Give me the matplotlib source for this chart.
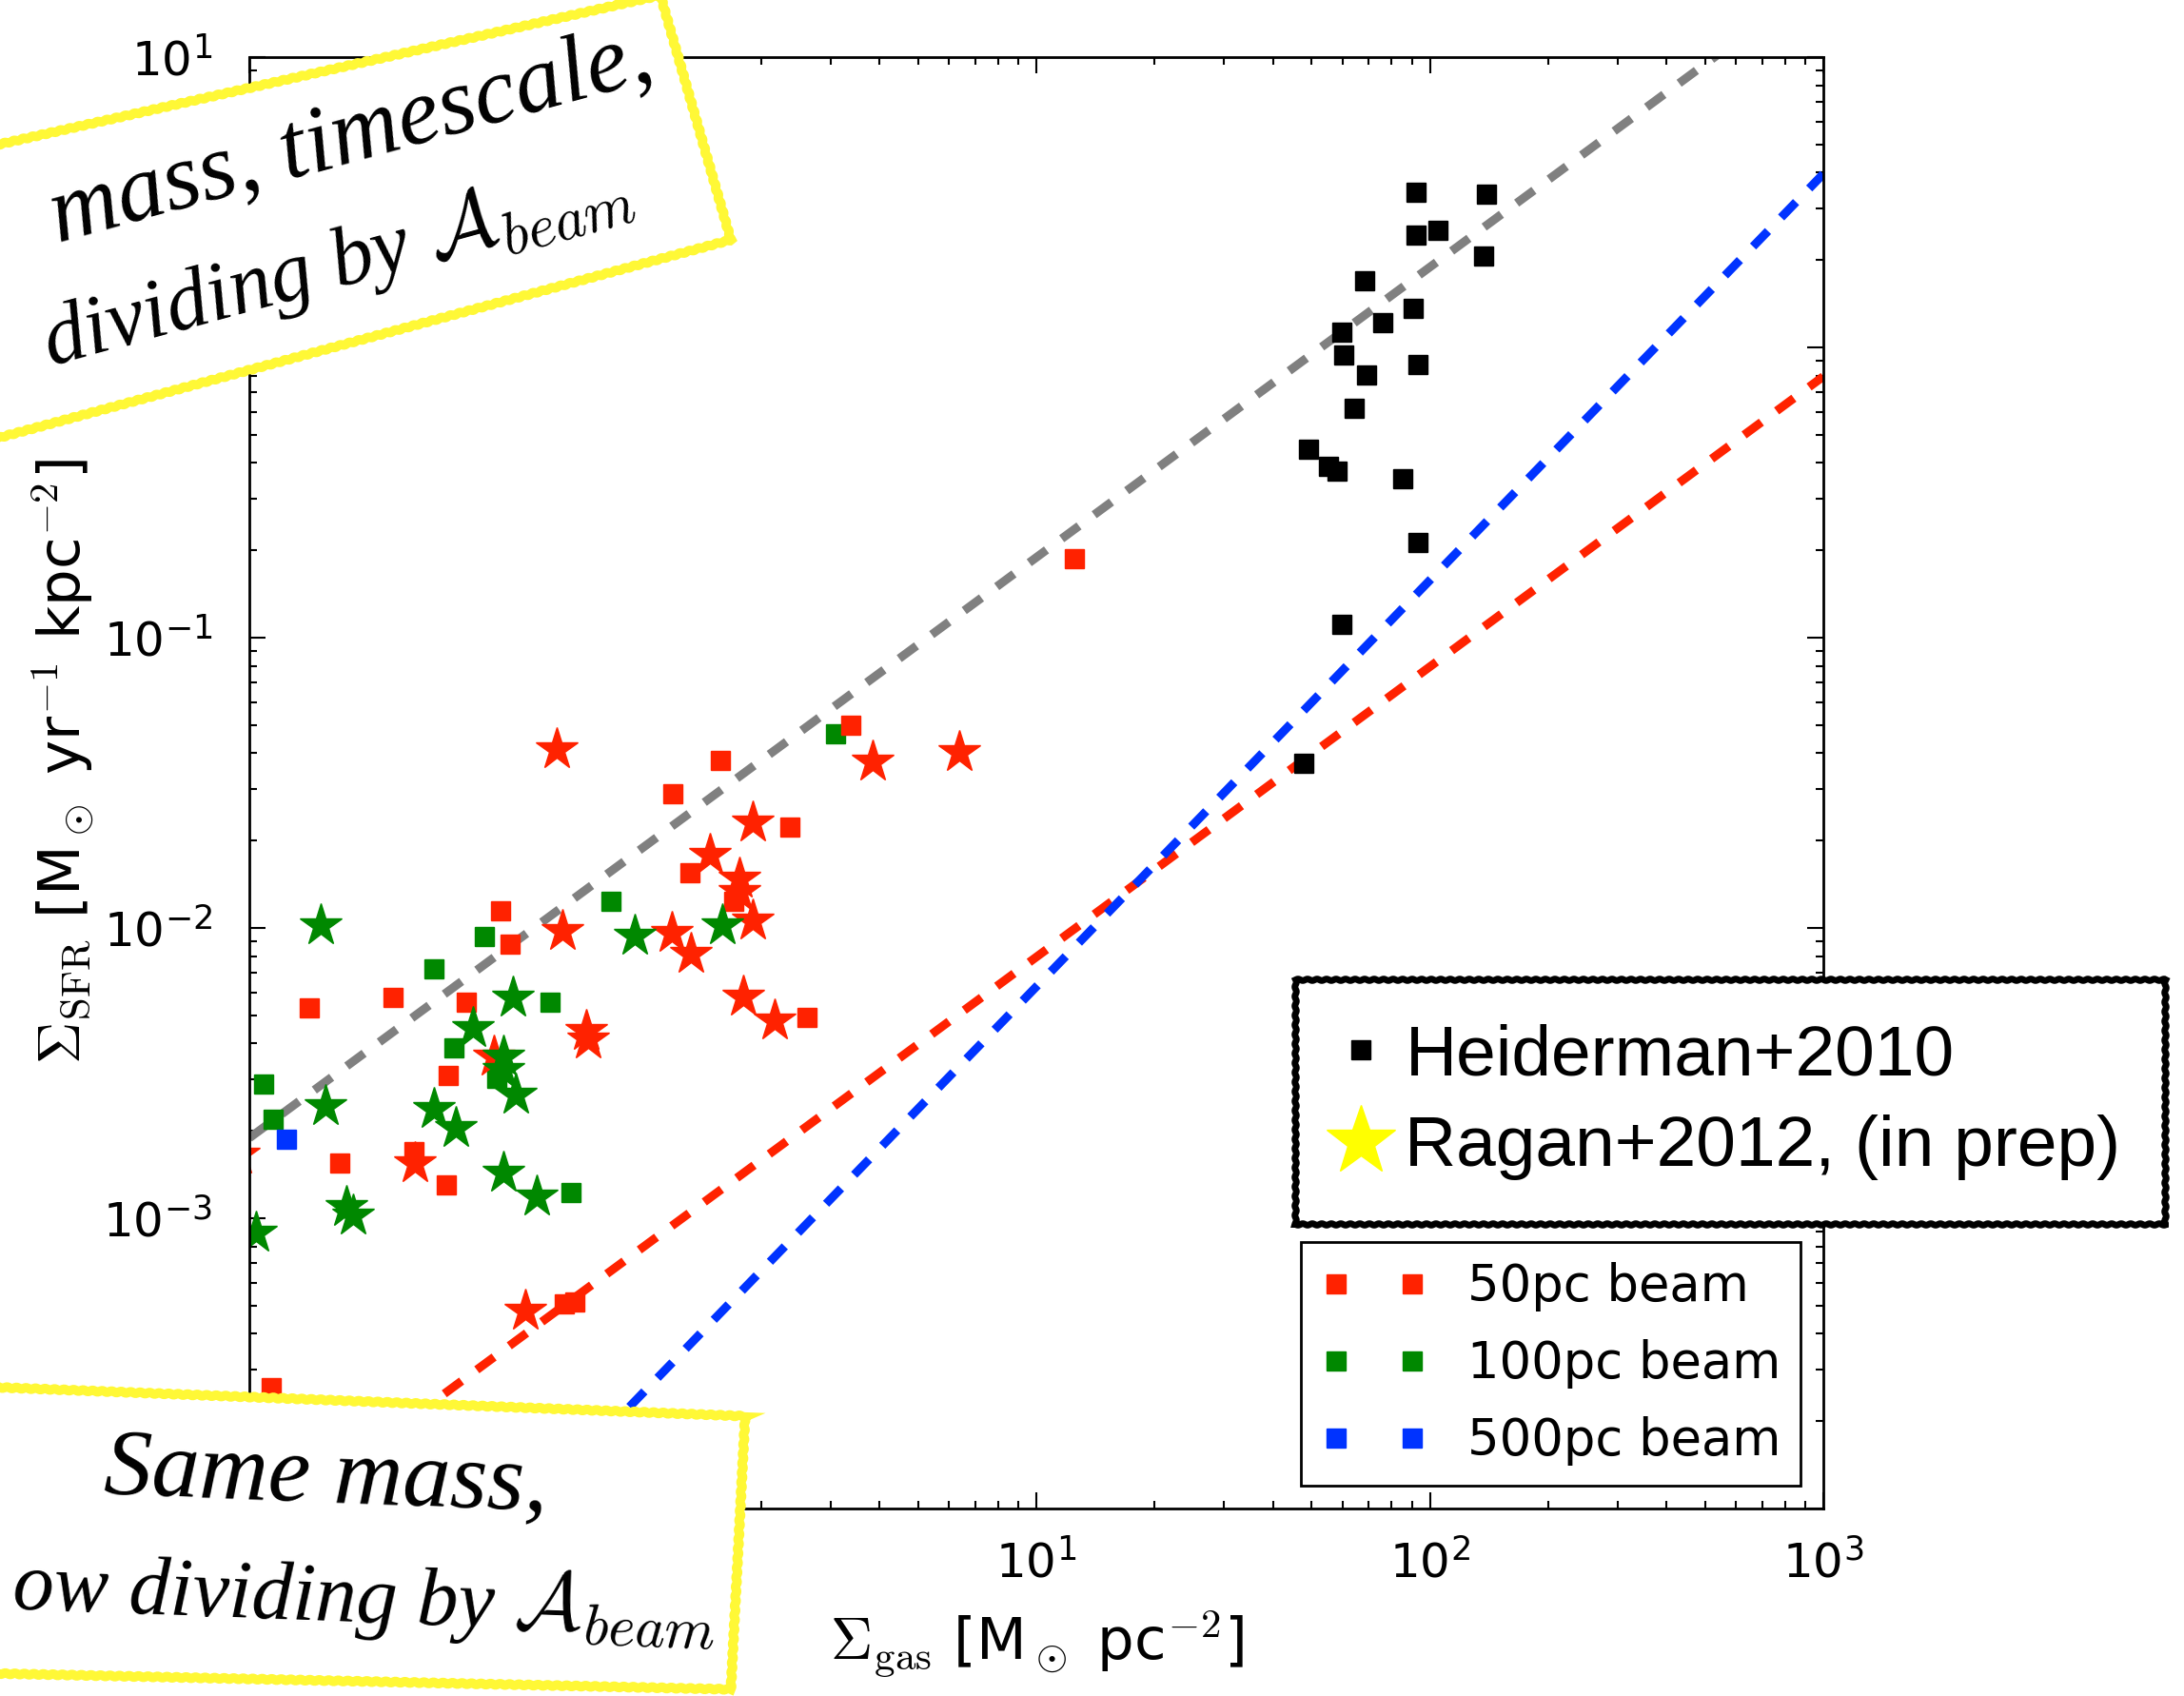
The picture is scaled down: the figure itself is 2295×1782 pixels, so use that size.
import matplotlib
matplotlib.use("Agg")
import matplotlib.pyplot as plt
from matplotlib.lines import Line2D
from matplotlib.patches import Polygon

plt.rcParams['mathtext.fontset'] = 'cm'
plt.rcParams['font.family'] = ['DejaVu Sans']
plt.rcParams['axes.unicode_minus'] = False

# Heiderman+2010 (black squares)
heid_gas = [92.0, 139.5, 92.0, 104.7, 137.1, 68.2, 90.6, 75.7, 59.6, 60.4,
            93.2, 69.2, 64.2, 49.1, 55.4, 58.0, 85.2, 93.2, 59.6, 47.7]
heid_sfr = [3.42, 3.36, 2.43, 2.54, 2.07, 1.69, 1.36, 1.22, 1.13, 0.944,
            0.871, 0.803, 0.618, 0.447, 0.389, 0.375, 0.352, 0.213, 0.111, 0.0368]

# 50pc beam
sq50_gas = [0.434, 0.459, 0.232, 0.1418, 0.356, 0.321, 0.170, 0.3165, 1.319, 0.2614,
            1.577, 1.193, 2.36, 1.698, 2.614, 3.38, 12.52, 0.1135, 0.672, 0.63]
sq50_sfr = [0.01148, 0.00881, 0.00578, 0.0053, 0.00556, 0.0031, 0.00155, 0.0013, 0.01545, 0.0017,
            0.03767, 0.02893, 0.0222, 0.01239, 0.00492, 0.0498, 0.1875, 0.000261, 0.000516, 0.000507]
st50_gas = [0.6236, 1.184, 1.324, 1.480, 0.717, 0.724, 0.418, 0.263, 1.899, 1.763,
            1.763, 1.899, 1.796, 2.163, 3.83, 6.36, 0.605, 0.504, 0.094]
st50_sfr = [0.00975, 0.00963, 0.00818, 0.01785, 0.00442, 0.00414, 0.0036, 0.00155, 0.0232, 0.01477,
            0.01335, 0.01065, 0.00582, 0.00482, 0.0375, 0.0404, 0.0413, 0.000482, 0.00166]

# 100pc beam
sq100_gas = [0.832, 0.396, 0.294, 0.582, 0.332, 0.1087, 0.1149, 0.657, 0.426, 3.09]
sq100_sfr = [0.01239, 0.00935, 0.00721, 0.00553, 0.00386, 0.00291, 0.00219, 0.001224, 0.00303, 0.0468]
st100_gas = [0.152, 0.156, 0.468, 0.371, 0.442, 0.442, 0.4765, 0.294, 0.335, 0.442,
             0.538, 0.176, 0.183, 0.1038, 0.956, 1.59]
st100_sfr = [0.01026, 0.00244, 0.00575, 0.00453, 0.00361, 0.00324, 0.00267, 0.00238, 0.00205, 0.00144,
             0.00119, 0.001092, 0.001026, 0.000893, 0.0094, 0.01026]

# 500pc beam
sq500_gas = [0.1245]
sq500_sfr = [0.001867]

# dashed relations, end points
line_gas = [0.1, 1000]
gray_sfr = [1.89e-3, 18.9]
red_sfr = [7.94e-5, 0.794]
blue_sfr = [9.95e-6, 3.96]

red = '#ff2200'
green = '#008800'
blue = '#0033ff'
yellow = '#fff836'

W, H = 2295, 1782
fig = plt.figure(figsize=(W / 100, H / 100), dpi=100)
ax = fig.add_axes([262 / W, (H - 1585) / H, 1654 / W, 1525 / H])
ax.set_xscale('log')
ax.set_yscale('log')

dash = dict(lw=6.5, dashes=(2.5, 2.2))
ax.plot(line_gas, gray_sfr, color='gray', **dash)
ax.plot(line_gas, red_sfr, color=red, **dash)
ax.plot(line_gas, blue_sfr, color=blue, **dash)

sq = dict(ls='none', marker='s', ms=15, mew=1)
ax.plot(sq100_gas, sq100_sfr, color=green, label='100pc beam', **sq)
ax.plot(sq50_gas, sq50_sfr, color=red, label='50pc beam', **sq)
ax.plot(sq500_gas, sq500_sfr, color=blue, label='500pc beam', **sq)
ax.plot(heid_gas, heid_sfr, color='k', **sq)
st = dict(ls='none', marker='*', ms=33, mew=1)
ax.plot(st50_gas, st50_sfr, color=red, **st)
ax.plot(st100_gas, st100_sfr, color=green, **st)

ax.set_xlim(0.1, 1000)
ax.set_ylim(1e-4, 10)

ax.tick_params(which='both', direction='in', top=True, right=True, width=1.5)
ax.tick_params(which='major', length=12, labelsize=36)
ax.tick_params(which='minor', length=6)
ax.tick_params(axis='x', pad=24)
ax.tick_params(axis='y', pad=28)
for s in ax.spines.values():
    s.set_linewidth(2)

ax.set_xlabel(r'$\Sigma_{\rm gas}$ [M$_\odot$ pc$^{-2}$]', fontsize=44)
ax.xaxis.set_label_coords(0.5, -0.093)
ax.xaxis.label.set_va('center')
ax.set_ylabel(r'$\Sigma_{\rm SFR}$ [M$_\odot$ yr$^{-1}$ kpc$^{-2}$]', fontsize=44)
ax.yaxis.set_label_coords(-0.1185, 0.515)
ax.yaxis.label.set_va('center')

h, l = ax.get_legend_handles_labels()
order = [1, 0, 2]
leg = ax.legend([h[i] for i in order], [l[i] for i in order], loc='lower right', numpoints=2,
                fontsize=38, fancybox=False, edgecolor='k', framealpha=1,
                handlelength=2.1, handletextpad=0.8, labelspacing=0.55,
                borderpad=0.4, borderaxespad=0.45)
leg.get_frame().set_linewidth(2)

# second legend, outside the axes on the right
hands = [Line2D([], [], ls='none', marker='s', ms=15, color='k'),
         Line2D([], [], ls='none', marker='*', ms=55, color='yellow')]
leg1 = fig.legend(hands, ['Heiderman+2010', 'Ragan+2012, (in prep)'],
                  loc='upper left', bbox_to_anchor=(1361 / W, 1 - 1029 / H),
                  bbox_transform=fig.transFigure,
                  prop={'family': 'Liberation Sans', 'size': 54},
                  fancybox=False, edgecolor='k', framealpha=1,
                  handlelength=0.6, handletextpad=0.32, labelspacing=0.35,
                  borderpad=0.62, borderaxespad=0)
leg1.get_frame().set_linewidth(5)
leg1.get_frame().set_sketch_params(0.8, 10, 1)
leg1.set_zorder(8)


def px(pts):
    return [(x / W, 1 - y / H) for x, y in pts]


# hand-written notes in yellow boxes
top_box = Polygon(px([(694, -5), (768, 252), (-20, 465), (-20, 156)]),
                  closed=True, transform=fig.transFigure, facecolor='white',
                  edgecolor=yellow, lw=7, zorder=10)
top_box.set_sketch_params(0.8, 10, 1)
fig.patches.append(top_box)
bot_box = Polygon(px([(-20, 1457), (783, 1488), (768, 1775), (-20, 1758)]),
                  closed=True, transform=fig.transFigure, facecolor='white',
                  edgecolor=yellow, lw=7, zorder=10)
bot_box.set_sketch_params(0.8, 10, 1)
fig.patches.append(bot_box)

note = dict(family='Liberation Serif', style='italic', zorder=11,
            rotation_mode='anchor', va='baseline')
fig.text(690 / W, 1 - 82 / H, 'mass, timescale,', ha='right', rotation=15.3,
         fontsize=72, **note)
fig.text(668 / W, 1 - 216 / H, r'dividing by $\mathcal{A}_{beam}$', ha='right',
         rotation=15.3, fontsize=64, **note)
fig.text(342 / W, 1 - 1578 / H, 'Same mass,', ha='center', rotation=-2.2,
         fontsize=72, **note)
fig.text(752 / W, 1 - 1718 / H, r'ow dividing by $\mathcal{A}_{beam}$', ha='right',
         rotation=-2.2, fontsize=62, **note)

fig.savefig('out.png', dpi=100)
